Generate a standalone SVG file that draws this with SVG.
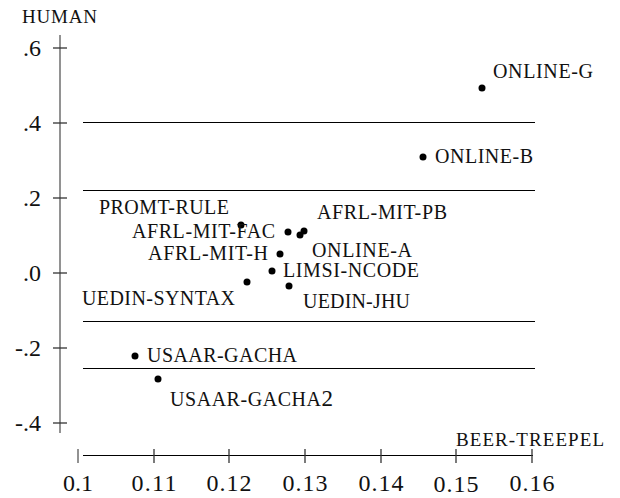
<svg xmlns="http://www.w3.org/2000/svg" width="620" height="498" viewBox="0 0 620 498">
<style>
text{font-family:"Liberation Serif","Times New Roman",serif;fill:#111}
.lbl{font-size:20px}
.ax{font-size:19px}
.yt{font-size:24px;text-anchor:end}
.xt{font-size:24px;text-anchor:middle}
.grid{stroke:#000;stroke-width:1.2}
.axis{stroke:#777;stroke-width:1.6}
.tick{stroke:#333;stroke-width:1.3}
.dot{fill:#000}
</style>
<rect width="620" height="498" fill="#fff"/>
<g id="axes">
<line class="axis" x1="60" y1="35" x2="60" y2="433"/>
<line class="tick" x1="53" y1="48" x2="67" y2="48"/>
<line class="tick" x1="53" y1="123" x2="67" y2="123"/>
<line class="tick" x1="53" y1="198" x2="67" y2="198"/>
<line class="tick" x1="53" y1="273" x2="67" y2="273"/>
<line class="tick" x1="53" y1="348" x2="67" y2="348"/>
<line class="tick" x1="53" y1="423" x2="67" y2="423"/>
<text class="yt" x="41" y="56">.6</text>
<text class="yt" x="41" y="131">.4</text>
<text class="yt" x="41" y="206">.2</text>
<text class="yt" x="41" y="281">.0</text>
<text class="yt" x="41" y="356">-.2</text>
<text class="yt" x="41" y="431">-.4</text>
<text class="ax" x="22" y="23" textLength="75" lengthAdjust="spacing">HUMAN</text>
<line stroke="#000" stroke-width="1.2" x1="83" y1="455.5" x2="533" y2="455.5"/>
<line class="axis" x1="78" y1="449" x2="78" y2="463"/>
<line class="tick" x1="154" y1="449" x2="154" y2="463"/>
<line class="tick" x1="229" y1="449" x2="229" y2="463"/>
<line class="tick" x1="305" y1="449" x2="305" y2="463"/>
<line class="tick" x1="381" y1="449" x2="381" y2="463"/>
<line class="tick" x1="456" y1="449" x2="456" y2="463"/>
<line class="tick" x1="532" y1="449" x2="532" y2="463"/>
<text class="xt" x="78" y="491" textLength="30" lengthAdjust="spacing">0.1</text>
<text class="xt" x="154" y="491" textLength="45" lengthAdjust="spacing">0.11</text>
<text class="xt" x="229" y="491" textLength="45" lengthAdjust="spacing">0.12</text>
<text class="xt" x="305" y="491" textLength="45" lengthAdjust="spacing">0.13</text>
<text class="xt" x="381" y="491" textLength="45" lengthAdjust="spacing">0.14</text>
<text class="xt" x="456" y="492" textLength="45" lengthAdjust="spacing">0.15</text>
<text class="xt" x="532" y="491" textLength="45" lengthAdjust="spacing">0.16</text>
<text class="ax" x="456" y="446" textLength="148" lengthAdjust="spacing">BEER-TREEPEL</text>
</g>
<g id="connectors">
<line class="grid" x1="83" y1="122.5" x2="535" y2="122.5"/>
<line class="grid" x1="83" y1="190.5" x2="535" y2="190.5"/>
<line class="grid" x1="83" y1="321.5" x2="535" y2="321.5"/>
<line class="grid" x1="83" y1="368.5" x2="535" y2="368.5"/>
</g>
<g id="online-g"><circle class="dot" cx="482" cy="88" r="3.5"/><text class="lbl" x="493" y="78" textLength="100" lengthAdjust="spacing">ONLINE-G</text></g>
<g id="online-b"><circle class="dot" cx="423" cy="157" r="3.5"/><text class="lbl" x="435" y="163" textLength="98" lengthAdjust="spacing">ONLINE-B</text></g>
<g id="promt-rule"><circle class="dot" cx="241" cy="225" r="3.5"/><text class="lbl" x="99" y="214" textLength="130" lengthAdjust="spacing">PROMT-RULE</text></g>
<g id="afrl-mit-fac"><circle class="dot" cx="288" cy="232" r="3.5"/><text class="lbl" x="132" y="238" textLength="143" lengthAdjust="spacing">AFRL-MIT-FAC</text></g>
<g id="afrl-mit-pb"><circle class="dot" cx="304" cy="231" r="3.5"/><text class="lbl" x="317" y="219" textLength="130" lengthAdjust="spacing">AFRL-MIT-PB</text></g>
<g id="online-a"><circle class="dot" cx="300" cy="235" r="3.5"/><text class="lbl" x="312" y="257" textLength="100" lengthAdjust="spacing">ONLINE-A</text></g>
<g id="afrl-mit-h"><circle class="dot" cx="280" cy="254" r="3.5"/><text class="lbl" x="148" y="260" textLength="120" lengthAdjust="spacing">AFRL-MIT-H</text></g>
<g id="limsi-ncode"><circle class="dot" cx="272" cy="271" r="3.5"/><text class="lbl" x="283" y="277" textLength="136" lengthAdjust="spacing">LIMSI-NCODE</text></g>
<g id="uedin-syntax"><circle class="dot" cx="247" cy="282" r="3.5"/><text class="lbl" x="82" y="305" textLength="153" lengthAdjust="spacing">UEDIN-SYNTAX</text></g>
<g id="uedin-jhu"><circle class="dot" cx="289" cy="286" r="3.5"/><text class="lbl" x="303" y="308" textLength="107" lengthAdjust="spacing">UEDIN-JHU</text></g>
<g id="usaar-gacha"><circle class="dot" cx="135" cy="356" r="3.5"/><text class="lbl" x="147" y="362" textLength="150" lengthAdjust="spacing">USAAR-GACHA</text></g>
<g id="usaar-gacha2"><circle class="dot" cx="158" cy="379" r="3.5"/><text class="lbl" x="170" y="406" textLength="163" lengthAdjust="spacing">USAAR-GACHA<tspan font-size="23">2</tspan></text></g>
</svg>
